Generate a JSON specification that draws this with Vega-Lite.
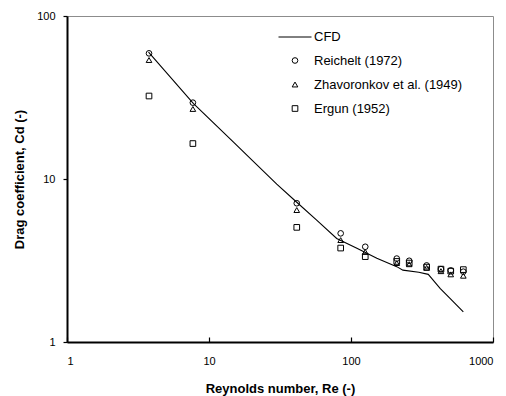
{
  "$schema": "https://vega.github.io/schema/vega-lite/v6.json",
  "autosize": "none",
  "width": 426,
  "height": 326,
  "padding": {"left": 67, "top": 16, "right": 13, "bottom": 54},
  "background": "white",
  "config": {
    "font": "Liberation Sans",
    "view": {"stroke": "#8c8c8c", "strokeWidth": 1},
    "axis": {
      "grid": false,
      "domainColor": "black",
      "domainWidth": 2,
      "tickColor": "black",
      "tickWidth": 1.2,
      "labelFont": "Liberation Sans",
      "labelFontSize": 11,
      "labelColor": "black",
      "titleFont": "Liberation Sans",
      "titleFontSize": 13,
      "titleFontWeight": "bold",
      "titleColor": "black"
    }
  },
  "datasets": {
    "cfd": [
      {"Re": 3.75, "Cd": 60},
      {"Re": 7.75, "Cd": 29.1},
      {"Re": 15, "Cd": 16.7},
      {"Re": 20, "Cd": 13.1},
      {"Re": 30, "Cd": 9.3},
      {"Re": 41.5, "Cd": 7.2},
      {"Re": 57.3, "Cd": 5.6},
      {"Re": 79.3, "Cd": 4.32},
      {"Re": 110, "Cd": 3.76},
      {"Re": 152, "Cd": 3.26},
      {"Re": 210, "Cd": 2.9},
      {"Re": 232, "Cd": 2.76},
      {"Re": 300, "Cd": 2.68},
      {"Re": 350, "Cd": 2.6},
      {"Re": 370, "Cd": 2.46},
      {"Re": 424, "Cd": 2.13},
      {"Re": 498, "Cd": 1.85},
      {"Re": 618, "Cd": 1.53}
    ],
    "exp": [
      {"Re": 3.78, "Cd": 59, "series": "Reichelt (1972)"},
      {"Re": 7.7, "Cd": 29.4, "series": "Reichelt (1972)"},
      {"Re": 41.5, "Cd": 7.1, "series": "Reichelt (1972)"},
      {"Re": 84.6, "Cd": 4.64, "series": "Reichelt (1972)"},
      {"Re": 126, "Cd": 3.84, "series": "Reichelt (1972)"},
      {"Re": 210, "Cd": 3.25, "series": "Reichelt (1972)"},
      {"Re": 257, "Cd": 3.15, "series": "Reichelt (1972)"},
      {"Re": 341, "Cd": 2.95, "series": "Reichelt (1972)"},
      {"Re": 430, "Cd": 2.8, "series": "Reichelt (1972)"},
      {"Re": 504, "Cd": 2.75, "series": "Reichelt (1972)"},
      {"Re": 618, "Cd": 2.7, "series": "Reichelt (1972)"},
      {"Re": 3.78, "Cd": 53.7, "series": "Zhavoronkov et al. (1949)"},
      {"Re": 7.7, "Cd": 26.9, "series": "Zhavoronkov et al. (1949)"},
      {"Re": 41.5, "Cd": 6.45, "series": "Zhavoronkov et al. (1949)"},
      {"Re": 84.6, "Cd": 4.22, "series": "Zhavoronkov et al. (1949)"},
      {"Re": 126, "Cd": 3.57, "series": "Zhavoronkov et al. (1949)"},
      {"Re": 210, "Cd": 3.05, "series": "Zhavoronkov et al. (1949)"},
      {"Re": 257, "Cd": 3.0, "series": "Zhavoronkov et al. (1949)"},
      {"Re": 341, "Cd": 2.85, "series": "Zhavoronkov et al. (1949)"},
      {"Re": 430, "Cd": 2.72, "series": "Zhavoronkov et al. (1949)"},
      {"Re": 504, "Cd": 2.6, "series": "Zhavoronkov et al. (1949)"},
      {"Re": 618, "Cd": 2.55, "series": "Zhavoronkov et al. (1949)"},
      {"Re": 3.78, "Cd": 32.3, "series": "Ergun (1952)"},
      {"Re": 7.7, "Cd": 16.5, "series": "Ergun (1952)"},
      {"Re": 41.5, "Cd": 5.05, "series": "Ergun (1952)"},
      {"Re": 84.6, "Cd": 3.77, "series": "Ergun (1952)"},
      {"Re": 126, "Cd": 3.34, "series": "Ergun (1952)"},
      {"Re": 210, "Cd": 3.12, "series": "Ergun (1952)"},
      {"Re": 257, "Cd": 3.05, "series": "Ergun (1952)"},
      {"Re": 341, "Cd": 2.88, "series": "Ergun (1952)"},
      {"Re": 430, "Cd": 2.8, "series": "Ergun (1952)"},
      {"Re": 504, "Cd": 2.72, "series": "Ergun (1952)"},
      {"Re": 618, "Cd": 2.78, "series": "Ergun (1952)"}
    ]
  },
  "layer": [
    {
      "data": {"name": "cfd"},
      "mark": {"type": "line", "color": "black", "strokeWidth": 1.1},
      "encoding": {
        "x": {
          "field": "Re", "type": "quantitative",
          "scale": {"type": "log", "domain": [1, 1000], "nice": false},
          "axis": {"values": [1, 10, 100, 1000], "format": "d", "tickSize": -5, "labelPadding": 18, "title": "Reynolds number, Re (-)", "titlePadding": 16}
        },
        "y": {
          "field": "Cd", "type": "quantitative",
          "scale": {"type": "log", "domain": [1, 100], "nice": false},
          "axis": {"values": [1, 10, 100], "format": "d", "tickSize": 4, "labelPadding": 8, "title": "Drag coefficient, Cd (-)", "titlePadding": 10}
        }
      }
    },
    {
      "data": {"name": "exp"},
      "mark": {"type": "point", "filled": false, "color": "black", "strokeWidth": 1, "opacity": 1},
      "encoding": {
        "x": {"field": "Re", "type": "quantitative"},
        "y": {"field": "Cd", "type": "quantitative"},
        "size": {
          "field": "series", "type": "nominal",
          "scale": {
            "type": "ordinal",
            "domain": ["CFD", "Reichelt (1972)", "Zhavoronkov et al. (1949)", "Ergun (1952)"],
            "range": [1089, 32, 32, 32]
          },
          "legend": {
            "title": null,
            "orient": "none",
            "legendX": 211,
            "legendY": 4,
            "labelFont": "Liberation Sans",
            "labelFontSize": 13,
            "labelColor": "black",
            "labelOffset": 2,
            "rowPadding": 10,
            "symbolStrokeColor": "black",
            "symbolStrokeWidth": 1
          }
        },
        "shape": {
          "field": "series", "type": "nominal",
          "scale": {
            "domain": ["CFD", "Reichelt (1972)", "Zhavoronkov et al. (1949)", "Ergun (1952)"],
            "range": ["stroke", "circle", "triangle-up", "square"]
          },
          "legend": {
            "title": null,
            "orient": "none",
            "legendX": 211,
            "legendY": 4,
            "labelFont": "Liberation Sans",
            "labelFontSize": 13,
            "labelColor": "black",
            "labelOffset": 2,
            "rowPadding": 10,
            "symbolStrokeColor": "black",
            "symbolStrokeWidth": 1
          }
        }
      }
    }
  ]
}
